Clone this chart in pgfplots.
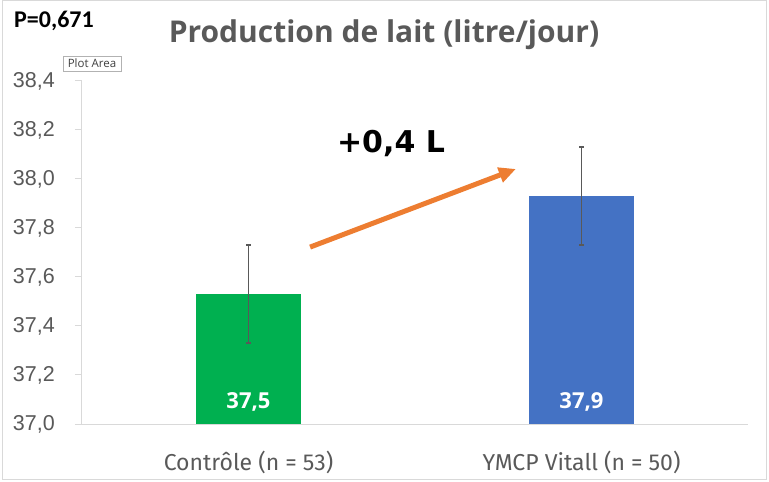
\documentclass[border=0pt]{standalone}
\usepackage{fontspec}
\setmainfont{Liberation Sans}
\newfontfamily\fira{Fira Sans}
\newfontfamily\carlito{Carlito}
\newfontfamily\dejavu{DejaVu Sans}
\newfontfamily\opensans{Open Sans}
\usepackage{pgfplots}
\pgfplotsset{compat=1.18}
\usetikzlibrary{arrows.meta}
\definecolor{txtgray}{HTML}{595959}
\definecolor{axgray}{HTML}{D9D9D9}
\definecolor{errgray}{HTML}{595959}
\definecolor{bargreen}{HTML}{00B050}
\definecolor{barblue}{HTML}{4472C4}
\definecolor{arroworange}{HTML}{ED7D31}
\begin{document}
\begin{tikzpicture}
\useasboundingbox (-82bp,-58bp) rectangle (687bp,424bp);
\draw[axgray, line width=1bp] (-79bp,-55bp) rectangle (684bp,423bp);
\begin{axis}[
 at={(0,0)}, anchor=south west,
 scale only axis, width=666bp, height=343bp,
 xmin=-0.5, xmax=1.5, ymin=37, ymax=38.4,
 axis x line*=bottom, axis y line*=left,
 axis line style={draw=axgray, line width=1bp, -},
 xtick={0,1}, xticklabels={Contrôle (n = 53), YMCP Vitall (n = 50)},
 x tick style={draw=none},
 ytick={37,37.2,37.4,37.6,37.8,38,38.2,38.4},
 yticklabels={{37,0},{37,2},{37,4},{37,6},{37,8},{38,0},{38,2},{38,4}},
 y tick style={draw=axgray, line width=1bp},
 tick align=outside, major tick length=7bp,
 yticklabel style={font=\fontsize{21.5bp}{24bp}\selectfont, text=txtgray, anchor=east, inner sep=0pt, xshift=-20bp},
 xticklabel style={font=\fira\fontsize{23bp}{25bp}\selectfont, text=txtgray, anchor=base, inner sep=0pt, yshift=-39bp},
]
\addplot[ybar, bar width=105bp, bar shift=0pt, fill=bargreen, draw=none,
 error bars/.cd, y dir=both, y explicit,
 error bar style={line width=1.4bp, draw=errgray},
 error mark options={rotate=90, mark size=2.5bp, line width=1.4bp, draw=errgray}]
 coordinates {(0,37.53) +- (0,0.2)};
\addplot[ybar, bar width=105bp, bar shift=0pt, fill=barblue, draw=none,
 error bars/.cd, y dir=both, y explicit,
 error bar style={line width=1.4bp, draw=errgray},
 error mark options={rotate=90, mark size=2.5bp, line width=1.4bp, draw=errgray}]
 coordinates {(1,37.93) +- (0,0.2)};
\node[text=white, font=\opensans\bfseries\fontsize{22bp}{24bp}\selectfont] at (axis cs:0,37.09) {37,5};
\node[text=white, font=\opensans\bfseries\fontsize{22bp}{24bp}\selectfont] at (axis cs:1,37.09) {37,9};
\draw[arroworange, line width=5bp, -{Triangle[length=17bp,width=15bp]}] (axis cs:0.185,37.722) -- (axis cs:0.803,38.041);
\node[font=\dejavu\bfseries\fontsize{30bp}{34bp}\selectfont] at (axis cs:0.428,38.145) {+0,4 L};
\end{axis}
\node[font=\opensans\bfseries\fontsize{30bp}{32bp}\selectfont, text=txtgray, anchor=base] at (302bp,381bp) {Production de lait (litre/jour)};
\node[font=\carlito\bfseries\fontsize{24bp}{26bp}\selectfont, anchor=base west, inner sep=0pt] at (-68bp,396bp) {P=0,671};
\node[draw=gray!60, fill=white, inner sep=1.5bp, font=\opensans\fontsize{11.5bp}{13bp}\selectfont, text=darkgray, minimum width=58bp, minimum height=15bp] at (10bp,360.5bp) {Plot Area};
\end{tikzpicture}
\end{document}
